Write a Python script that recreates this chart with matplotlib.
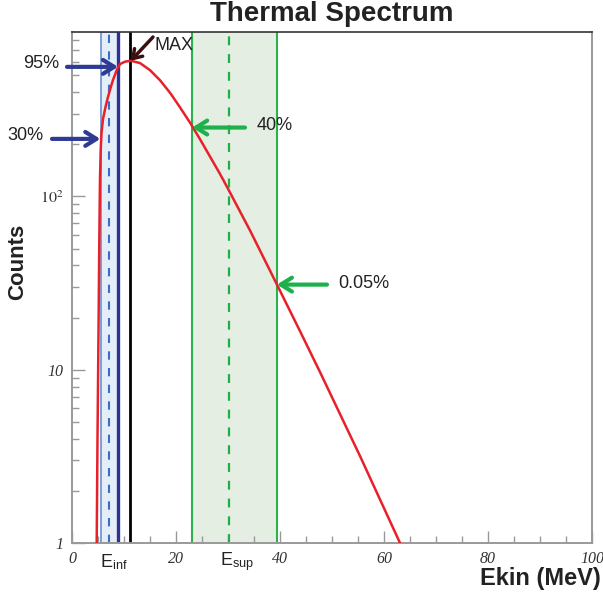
import matplotlib
matplotlib.use("Agg")
import matplotlib.pyplot as plt
from matplotlib.ticker import MultipleLocator, FixedLocator, FixedFormatter

# spectrum (energy in MeV, counts)
energy = [4.75, 4.90, 5.10, 5.25, 5.38, 5.52, 5.67, 5.96, 6.44, 6.92, 7.40,
          7.88, 8.60, 9.23, 10.19, 11.35, 13.08, 15.0, 16.92, 18.85, 20.77,
          22.69, 24.62, 28.46, 30.06, 34.23, 39.37, 43.85, 47.69, 55.38, 63.08]
counts = [1.0, 3.93, 16.9, 56.0, 124, 185, 232, 280, 328, 375, 422,
          470, 536, 581, 600, 607, 589, 536, 469, 397, 327,
          267, 214, 135, 110, 63.7, 31.2, 16.7, 9.70, 3.18, 1.0]

# bands / markers
e_inf_band = (5.5, 8.9)
e_inf = 7.1
e_max = 11.2
e_sup_band = (23.1, 39.4)
e_sup = 30.2

# arrow tips on the curve
pt30 = (5.45, 215)
pt95 = (8.85, 560)
ptmax = (11.3, 607)
pt40 = (23.1, 250)
pt005 = (39.4, 31.0)

xticks = [0, 20, 40, 60, 80, 100]
xticklabels = ['0', '20', '40', '60', '80', '100']
yticks = [1, 10, 100]
yticklabels = ['1', '10', r'$\mathit{10}^{\mathit{2}}$']

plt.rcParams['mathtext.fontset'] = 'stix'

fig = plt.figure(figsize=(6.03, 5.95), dpi=100)
W, H = 603, 595
ax = fig.add_axes([72 / W, 1 - 543 / H, 520 / W, 511 / H])

# bands
ax.axvspan(*e_inf_band, facecolor='#e4eef8', edgecolor='#6b8fd0', lw=1.2, zorder=1)
ax.axvline(e_inf_band[1], color='#2e3192', lw=2.4, zorder=2)
ax.axvline(e_inf, color='#3a6cc8', lw=1.5, ls=(0, (4, 4)), zorder=2)
ax.axvspan(*e_sup_band, facecolor='#e5eee3', edgecolor='none', zorder=1)
ax.axvline(e_sup_band[0], color='#2bb24c', lw=1.5, zorder=2)
ax.axvline(e_sup_band[1], color='#2bb24c', lw=1.5, zorder=2)
ax.axvline(e_sup, color='#1fae48', lw=1.6, ls=(0, (4, 4)), zorder=2)
ax.axvline(e_max, color='black', lw=2, zorder=2)

ax.plot(energy, counts, color='#e8202a', lw=1.8, zorder=3)

ax.set_yscale('log')
ax.set_xlim(0, 100)
ax.set_ylim(1, 890)

ax.xaxis.set_major_locator(FixedLocator(xticks))
ax.xaxis.set_major_formatter(FixedFormatter(xticklabels))
ax.xaxis.set_minor_locator(MultipleLocator(5))
ax.yaxis.set_major_locator(FixedLocator(yticks))
ax.yaxis.set_major_formatter(FixedFormatter(yticklabels))

ax.tick_params(which='both', direction='in', color='#999999', width=1,
               labelcolor='#333333', top=False, right=False)
ax.tick_params(which='major', length=9)
ax.tick_params(which='minor', length=5)
ax.tick_params(axis='x', pad=6)
ax.tick_params(axis='y', pad=6)
for lab in ax.get_xticklabels() + ax.get_yticklabels():
    lab.set_fontfamily('Liberation Serif')
    lab.set_fontstyle('italic')
    lab.set_fontsize(11.5)

for side in ['left', 'bottom', 'right']:
    ax.spines[side].set_color('#999999')
    ax.spines[side].set_linewidth(1.4)
ax.spines['top'].set_color('#333333')
ax.spines['top'].set_linewidth(1.2)

fig.text(332 / W, 1 - 14 / H, 'Thermal Spectrum', ha='center', va='center',
         fontsize=20, fontweight='bold', family='Liberation Sans', color='#222222')
fig.text(18 / W, 1 - 262 / H, 'Counts', rotation=90, ha='center', va='center',
         fontsize=16, fontweight='bold', family='Liberation Sans', color='#222222')
fig.text(601 / W, 1 - 579 / H, 'Ekin (MeV)', ha='right', va='center',
         fontsize=17, fontweight='bold', family='Liberation Sans', color='#222222')

# E_inf / E_sup labels under the axis
lab_kw = dict(ha='center', va='center', fontsize=13, family='Liberation Sans', color='#222222')
fig.text(114 / W, 1 - 562 / H, r'E$_{\mathregular{inf}}$', **lab_kw)
fig.text(237 / W, 1 - 562 / H, r'E$_{\mathregular{sup}}$', **lab_kw)

txt_kw = dict(va='center', fontsize=13, family='Liberation Sans', color='#222222')
blue = dict(arrowstyle='->,head_length=0.8,head_width=0.5', color='#2e3a94', lw=3,
            shrinkA=0, shrinkB=0)
green = dict(arrowstyle='->,head_length=0.8,head_width=0.5', color='#1db04b', lw=3,
             shrinkA=0, shrinkB=0)
dark = dict(arrowstyle='->,head_length=0.6,head_width=0.4', color='#3a1010', lw=2.5,
            shrinkA=0, shrinkB=0)
mixed = ('figure pixels', 'data')

ax.annotate('', xy=pt95, xytext=(67, pt95[1]), textcoords=mixed,
            arrowprops=blue, annotation_clip=False)
fig.text(23 / W, 1 - 64 / H, '95%', ha='left', **txt_kw)
ax.annotate('', xy=pt30, xytext=(52, pt30[1]), textcoords=mixed,
            arrowprops=blue, annotation_clip=False)
fig.text(7 / W, 1 - 135 / H, '30%', ha='left', **txt_kw)
ax.annotate('', xy=ptmax, xytext=(153, H - 37), textcoords='figure pixels',
            arrowprops=dark, annotation_clip=False)
fig.text(155 / W, 1 - 45 / H, 'MAX', ha='left', **txt_kw)
ax.annotate('', xy=pt40, xytext=(245, pt40[1]), textcoords=mixed,
            arrowprops=green, annotation_clip=False)
fig.text(257 / W, 1 - 126 / H, '40%', ha='left', **txt_kw)
ax.annotate('', xy=pt005, xytext=(327, pt005[1]), textcoords=mixed,
            arrowprops=green, annotation_clip=False)
fig.text(338 / W, 1 - 283 / H, '0.05%', ha='left', **txt_kw)

fig.savefig('out.png', dpi=100)
